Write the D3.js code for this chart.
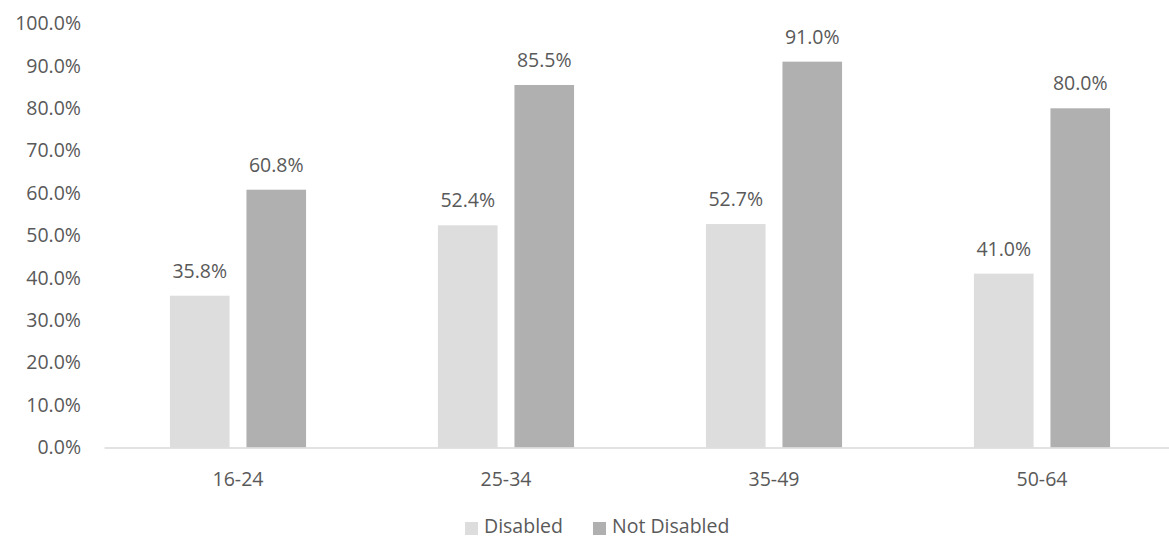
<!DOCTYPE html>
<html>
<head>
<meta charset="utf-8">
<script src="https://cdn.jsdelivr.net/npm/d3@7"></script>
<style>
  html, body { margin: 0; padding: 0; background: #fff; }
  svg { display: block; }
  text { font-family: "Open Sans", "Noto Sans", sans-serif; fill: #595959; }
</style>
</head>
<body>
<svg id="chart" width="1169" height="540"></svg>
<script>
const categories = ["16-24", "25-34", "35-49", "50-64"];
const seriesNames = ["Disabled", "Not Disabled"];
const disabledValues = [35.8, 52.4, 52.7, 41.0];
const notDisabledValues = [60.8, 85.5, 91.0, 80.0];
const yTicks = [0, 10, 20, 30, 40, 50, 60, 70, 80, 90, 100];
const colors = ["#dddddd", "#b0b0b0"];

const seriesValues = [disabledValues, notDisabledValues];
const svg = d3.select("#chart");
const FS = "19.5px";

const x0 = d3.scaleBand().domain(categories).range([104, 1176]).padding(0);
const bw = x0.bandwidth();
const x1 = d3.scaleBand().domain(seriesNames)
  .range([bw * 0.246, bw * 0.754]).paddingInner(0.221).paddingOuter(0);
const y = d3.scaleLinear().domain([0, 100]).range([447.5, 23.5]);

// Y axis labels
const yAxis = d3.axisLeft(y).tickValues(yTicks)
  .tickFormat(d => d.toFixed(1) + "%").tickSize(0).tickPadding(0);
const yg = svg.append("g").attr("transform", "translate(81,0)").call(yAxis);
yg.select(".domain").remove();
yg.selectAll("text").style("font-size", FS).attr("fill", "#595959")
  .attr("font-family", "Open Sans");

// Bars
const groups = svg.append("g").selectAll("g").data(categories).join("g")
  .attr("transform", d => `translate(${x0(d)},0)`);

const barData = (c, i) => seriesNames.map((s, k) => ({ s, k, v: seriesValues[k][i] }));

groups.selectAll("rect").data(barData).join("rect")
  .attr("x", d => x1(d.s))
  .attr("width", x1.bandwidth())
  .attr("y", d => y(d.v))
  .attr("height", d => y(0) - y(d.v))
  .attr("fill", d => colors[d.k]);

groups.selectAll("text.val").data(barData).join("text")
  .attr("class", "val")
  .attr("x", d => x1(d.s) + x1.bandwidth() / 2)
  .attr("y", d => y(d.v) - 18)
  .attr("text-anchor", "middle")
  .style("font-size", FS)
  .text(d => d.v.toFixed(1) + "%");

// X axis
const xAxis = d3.axisBottom(x0).tickSize(0).tickPadding(0);
const xg = svg.append("g").attr("transform", `translate(0,${y(0)})`).call(xAxis);
xg.select(".domain").attr("stroke", "#d9d9d9").attr("stroke-width", 1.5);
xg.selectAll("text").style("font-size", FS).attr("fill", "#595959")
  .attr("font-family", "Open Sans").attr("dy", "0").attr("y", 38);

// Legend
const legendItems = [
  { name: seriesNames[0], color: colors[0], sx: 465, tx: 484 },
  { name: seriesNames[1], color: colors[1], sx: 593, tx: 612 }
];
const lg = svg.append("g");
lg.selectAll("rect").data(legendItems).join("rect")
  .attr("x", d => d.sx).attr("y", 522).attr("width", 13).attr("height", 13)
  .attr("fill", d => d.color);
lg.selectAll("text").data(legendItems).join("text")
  .attr("x", d => d.tx).attr("y", 533)
  .style("font-size", FS)
  .text(d => d.name);
</script>
</body>
</html>
